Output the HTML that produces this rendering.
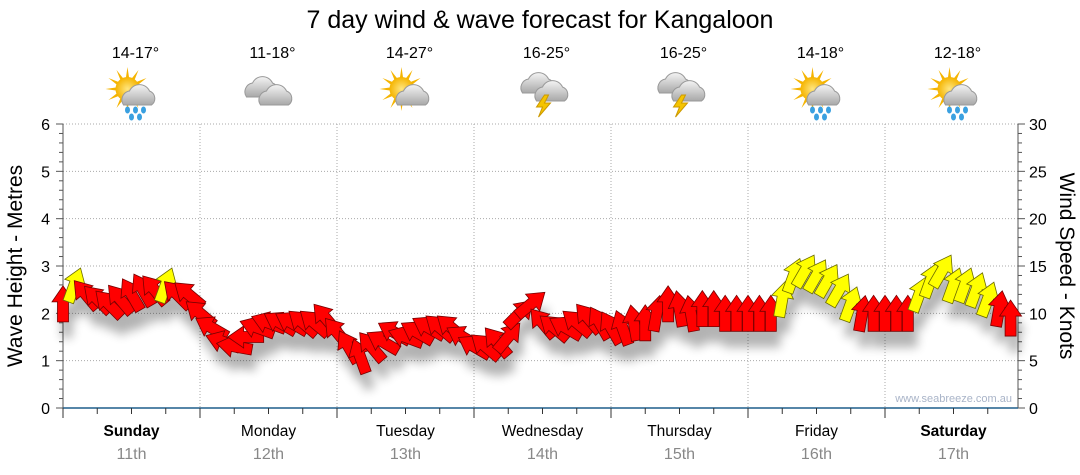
<!DOCTYPE html>
<html><head><meta charset="utf-8"><style>
body{margin:0;background:#fff;font-family:"Liberation Sans",sans-serif}
svg{display:block}
</style></head><body>
<svg id="c" width="1080" height="475" xmlns="http://www.w3.org/2000/svg">
<defs>
<filter id="sh" x="-50%" y="-50%" width="200%" height="200%"><feGaussianBlur stdDeviation="5"/></filter>
<radialGradient id="sun" cx="50%" cy="50%" r="50%"><stop offset="0" stop-color="#ffe680"/><stop offset="1" stop-color="#f5b400"/></radialGradient>
<linearGradient id="cl" x1="0" y1="0" x2="0" y2="1"><stop offset="0" stop-color="#f4f4f4"/><stop offset="1" stop-color="#a8a8a8"/></linearGradient>
</defs>
<text x="540" y="28" text-anchor="middle" font-size="25" fill="#000">7 day wind &amp; wave forecast for Kangaloon</text>
<g id="grid"></g><g id="axes"></g><g id="icons"></g><g id="shadow" filter="url(#sh)" opacity="0.3"></g><g id="arrows"></g>
<text x="1012" y="402" text-anchor="end" font-size="11" fill="#a9b4c8">www.seabreeze.com.au</text>
<text transform="translate(22,266) rotate(-90)" text-anchor="middle" font-size="21">Wave Height - Metres</text>
<text transform="translate(1060,266) rotate(90)" text-anchor="middle" font-size="21">Wind Speed - Knots</text>
</svg>
<script>
const days=["Sunday","Monday","Tuesday","Wednesday","Thursday","Friday","Saturday"];
const dates=["11th","12th","13th","14th","15th","16th","17th"];
const temps=["14-17°","11-18°","14-27°","16-25°","16-25°","14-18°","12-18°"];
const weather=["sunrain","cloud","suncloud","storm","storm","sunrain","sunrain"];
const leftTicks=[0,1,2,3,4,5,6];
const rightTicks=[0,5,10,15,20,25,30];
const windSpeed=[11,13,12,11.5,11,11.5,12,12.5,12.5,13,12,12,
10,8.5,7,6.5,7.5,8.5,9,9,9,9,9,9.5,
8,6.5,5.5,6.5,7,8,7.5,8,8.5,8.5,8.5,7.5,
6.5,6.5,7,7.5,10,11,9,8.5,8.5,9,9.5,9,
8.5,8.5,9,9,10,11,10.5,10,10.5,10.5,10,10,
10,10,10,11.5,14,14.5,14,13.5,12.5,11,10,10,
10,10,10,12,13.5,14.5,13,13,12.5,11.5,10.5,9.5];
const windDir=[0,20,320,315,315,320,330,330,320,20,315,310,
310,300,290,280,270,290,290,300,300,310,310,320,
320,330,340,320,300,300,290,300,300,310,310,300,
300,310,320,40,45,50,320,310,300,310,320,330,
330,340,350,0,10,0,350,350,0,0,0,0,
0,0,0,10,20,30,30,30,30,20,10,0,
0,0,0,20,20,30,20,20,20,20,10,0];
const rating=[0,1,0,0,0,0,0,0,0,1,0,0,
0,0,0,0,0,0,0,0,0,0,0,0,
0,0,0,0,0,0,0,0,0,0,0,0,
0,0,0,0,0,0,0,0,0,0,0,0,
0,0,0,0,0,0,0,0,0,0,0,0,
0,0,0,1,1,1,1,1,1,1,0,0,
0,0,0,1,1,1,1,1,1,1,0,0];
const X0=63,X1=1018,Y0=408,Y1=124,DAYW=137;
const yL=v=>Y0-(v/6)*(Y0-Y1);
const yR=v=>Y0-(v/30)*(Y0-Y1);
const xT=h=>X0+h/24*DAYW;
const NS="http://www.w3.org/2000/svg";
function mk(t,a,p){const e=document.createElementNS(NS,t);for(const k in a)e.setAttribute(k,a[k]);p.appendChild(e);return e;}
const grid=document.getElementById('grid'),axes=document.getElementById('axes'),icons=document.getElementById('icons');
leftTicks.forEach(v=>{
 if(v>0){const l=mk('line',{x1:X0,x2:X1,y1:yL(v),y2:yL(v),stroke:'#aaa','stroke-dasharray':'1,2'},grid);
 }
 const t=mk('text',{x:50,y:yL(v)+6,'text-anchor':'end','font-size':16},axes);t.textContent=v;
 
});
for(let i=0;i<=30;i++){const v=i/5;mk('line',{x1:X0-(i%5?4:7),x2:X0,y1:yL(v),y2:yL(v),stroke:'#555'},axes);}
for(let i=0;i<=30;i++){mk('line',{x1:X1,x2:X1+(i%5?4:7),y1:yR(i),y2:yR(i),stroke:'#555'},axes);}
rightTicks.forEach(v=>{const t=mk('text',{x:1029,y:yR(v)+6,'font-size':16},axes);t.textContent=v;
 });
mk('line',{x1:X0,x2:X0,y1:Y1,y2:Y0,stroke:'#555'},axes);
mk('line',{x1:X1,x2:X1,y1:Y1,y2:Y0,stroke:'#555'},axes);
mk('line',{x1:X0,x2:X1,y1:Y0,y2:Y0,stroke:'#1f5f8b','stroke-width':1.5},axes);
for(let h=0;h<=24*7;h+=6){const x=xT(h);if(x>X1+1)break;mk('line',{x1:x,x2:x,y1:Y0,y2:Y0+(h%24?6:10),stroke:'#333'},axes);
 if(h%24==0&&h>0){const g=mk('line',{x1:x,x2:x,y1:Y1,y2:Y0,stroke:'#aaa','stroke-dasharray':'1,2'},grid);
 }}
days.forEach((d,i)=>{const cx=xT(i*24+12);
 const t=mk('text',{x:cx,y:436,'text-anchor':'middle','font-size':15.5,'font-weight':(i==0||i==6)?'bold':'normal'},axes);t.textContent=d;
 
 const t2=mk('text',{x:cx,y:459,'text-anchor':'middle','font-size':16,fill:'#888'},axes);t2.textContent=dates[i];
 
 const t3=mk('text',{x:cx+4,y:58,'text-anchor':'middle','font-size':16},icons);t3.textContent=temps[i];
 
 const g=mk('g',{transform:`translate(${cx+4},95)`},icons);
 
 const w=weather[i];
 if(w=='sunrain'||w=='suncloud'){
  for(let k=0;k<12;k++){const a=k*30*Math.PI/180;mk('polygon',{points:`${-8+Math.cos(a-0.15)*11},${-6+Math.sin(a-0.15)*11} ${-8+Math.cos(a)*22},${-6+Math.sin(a)*22} ${-8+Math.cos(a+0.15)*11},${-6+Math.sin(a+0.15)*11}`,fill:'#f5b400'},g);}
  mk('circle',{cx:-8,cy:-6,r:12,fill:'url(#sun)'},g);
 }
 if(w=='cloud'){mk('path',{d:'M-26,2 a9,9 0 0 1 6,-14 a11,11 0 0 1 20,0 a8,8 0 0 1 2,14z',fill:'url(#cl)',stroke:'#999'},g);
  mk('path',{d:'M-12,10 a9,9 0 0 1 6,-14 a11,11 0 0 1 20,0 a8,8 0 0 1 2,14z',fill:'url(#cl)',stroke:'#999'},g);}
 else if(w=='storm'){mk('path',{d:'M-24,-2 a9,9 0 0 1 6,-14 a11,11 0 0 1 20,0 a8,8 0 0 1 2,14z',fill:'url(#cl)',stroke:'#999'},g);
  mk('path',{d:'M-10,6 a9,9 0 0 1 6,-14 a11,11 0 0 1 20,0 a8,8 0 0 1 2,14z',fill:'url(#cl)',stroke:'#999'},g);
  mk('polygon',{points:'-2,0 -10,12 -4,12 -8,22 4,8 -2,8 2,0',fill:'#f5c400',stroke:'#c90'},g);}
 else {mk('path',{d:'M-12,10 a9,9 0 0 1 6,-14 a11,11 0 0 1 20,0 a8,8 0 0 1 2,14z',fill:'url(#cl)',stroke:'#999'},g);
  if(w=='sunrain')[[-8,15],[0,15],[8,15],[-4,22],[4,22]].forEach(p=>mk('ellipse',{cx:p[0],cy:p[1],rx:2.5,ry:3.5,fill:'#3aa0e0'},g));}
});
const arr=document.getElementById('arrows'),shd=document.getElementById('shadow');
const P='M-5.5,18 L-5.5,-2 L-11,-2 L0,-18 L11,-2 L5.5,-2 L5.5,18 Z';
windSpeed.forEach((s,i)=>{const x=xT(i*2),y=yR(s);
 mk('path',{d:P,transform:`translate(${x+4},${y+16}) rotate(${windDir[i]})`,fill:'#000'},shd);
 const a=mk('path',{d:P,transform:`translate(${x},${y}) rotate(${windDir[i]})`,fill:rating[i]?'#ffff00':'#ff0000',stroke:rating[i]?'#6b6b00':'#700','stroke-width':0.8},arr);
 
});
</script>
</body></html>
